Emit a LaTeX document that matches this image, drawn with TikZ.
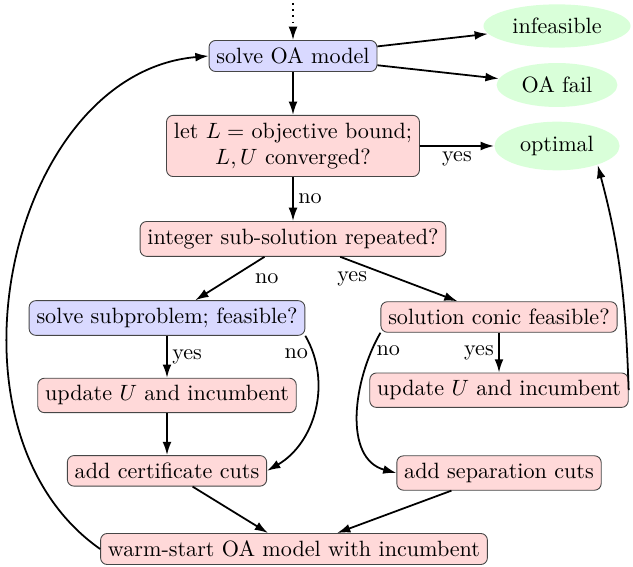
\documentclass[tikz,border=0pt]{standalone}
\usepackage{amsmath}
\usepackage{tikz}
\usetikzlibrary{arrows.meta, positioning, shapes.geometric}
\definecolor{solvecolor}{RGB}{217,217,255}
\definecolor{stepcolor}{RGB}{255,217,217}
\definecolor{endcolor}{RGB}{217,255,217}
\definecolor{edgecolor}{RGB}{70,70,70}

\begin{document}
\begin{tikzpicture}[x=0.452pt, y=-0.452pt,
    >={Latex[length=6pt, width=4pt]},
    blk/.style={
        draw=edgecolor, rounded corners=3pt,
        align=center, fill=#1
    },
    term/.style={
        ellipse, fill=endcolor
    },
    flow/.style={->, thick},
    lbl/.style={
        inner sep=2pt
    }
]
\useasboundingbox (0,0) rectangle (633,566);

% =========================
% TOP: OA MODEL
% =========================
\coordinate (TOP) at (293,3);
\node[blk=solvecolor] (SOLVE) at (293,56) {solve OA model};
\draw[flow, dotted] (TOP) -- (SOLVE);

\node[term] (INF) at (557,26) {infeasible};
\node[term] (FAIL) at (557,85) {OA fail};

\draw[flow] (SOLVE) -- (INF);
\draw[flow] (SOLVE) -- (FAIL);

% =========================
% CONVERGENCE TEST
% =========================
\node[blk=stepcolor, below=19.4pt of SOLVE] (CONV)
 {let $L =$ objective bound;\\$L, U$ converged?};

\draw[flow] (SOLVE) -- (CONV);

\node[term] (OPT) at (557,146) {optimal};

\draw[flow] (CONV) -- (OPT)
node[midway, below, lbl]{yes};

% =========================
% REPEATED SOLUTION
% =========================
\node[blk=stepcolor, below=19.9pt of CONV] (REP)
 {integer sub-solution repeated?};

\draw[flow] (CONV) -- (REP)
node[midway, right, lbl]{no};

% =========================
% TWO BRANCHES (SIDE BY SIDE)
% =========================
\node[blk=solvecolor] (SUB) at (167,318)
 {solve subproblem; feasible?};

\node[blk=stepcolor] (CON) at (499,317)
 {solution conic feasible?};

\draw[flow] (REP) -- (SUB)
node[midway, right=9pt, lbl]{no};

\draw[flow] (REP) -- (CON)
node[midway, left=12pt, lbl]{yes};

% left branch
\node[blk=stepcolor, below=19pt of SUB] (UPL)
 {update $U$ and incumbent};

\node[blk=stepcolor, below=19pt of UPL] (CERT)
 {add certificate cuts};

\draw[flow] (SUB) -- (UPL)
node[midway, right, lbl]{yes};

\draw[flow] (UPL) -- (CERT);

\draw[flow] (SUB.south east) to[out=-60, in=30]
node[pos=0.12, left, lbl]{no} (CERT.east);

% right branch
\node[blk=stepcolor, below=18pt of CON] (UPR)
 {update $U$ and incumbent};

\node[blk=stepcolor] (SEP) at (499,473)
 {add separation cuts};

\draw[flow] (CON) -- (UPR)
node[midway, left, lbl]{yes};

\draw[flow] (CON.south west) to[out=-120, in=165]
node[pos=0.12, right, lbl]{no} (SEP.west);

\draw[flow] (UPR.east) to[out=92, in=-75] (OPT.-25);

% =========================
% WARM START (back to top)
% =========================
\node[blk=stepcolor] (WARM) at (294,549)
 {warm-start OA model with incumbent};

\draw[flow] (CERT) -- (WARM);
\draw[flow] (SEP) -- (WARM);

\draw[flow]
(WARM.west) .. controls (-70,430) and (9,73) .. (SOLVE.west);

\end{tikzpicture}
\end{document}
